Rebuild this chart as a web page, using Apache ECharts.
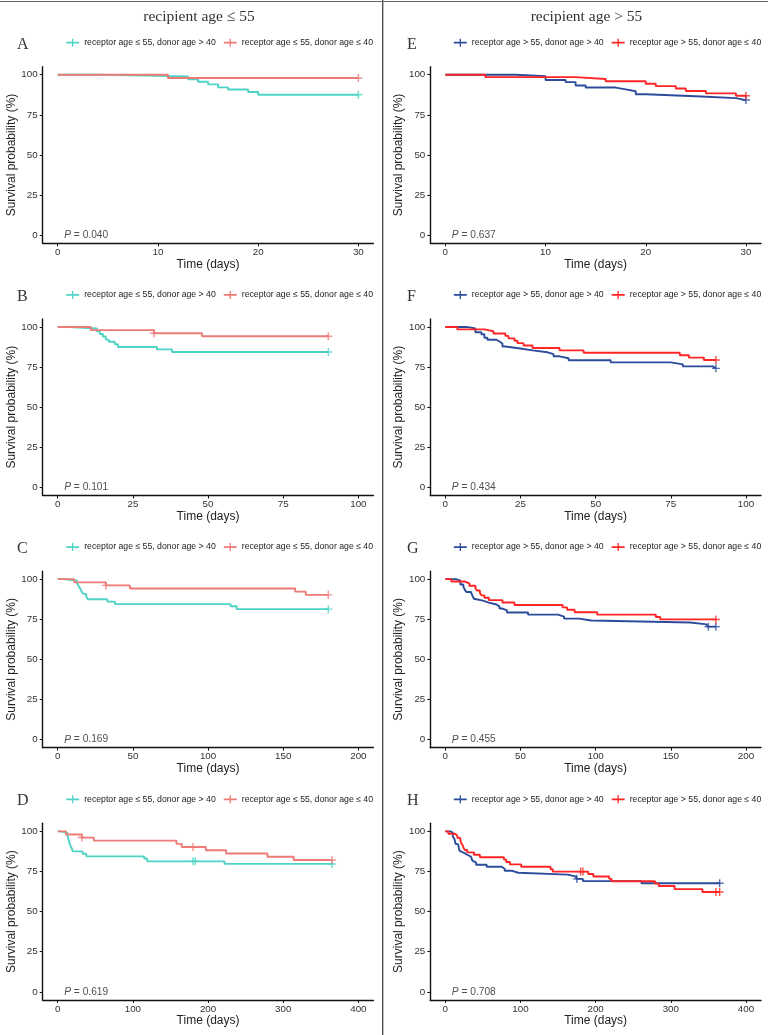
<!DOCTYPE html>
<html><head><meta charset="utf-8">
<script src="https://cdn.jsdelivr.net/npm/echarts@6/dist/echarts.min.js"></script>
<style>html,body{margin:0;padding:0;background:#fff}#c{width:768px;height:1035px}</style>
</head><body><div id="c"></div>
<script>
// ---------- DATA (Kaplan-Meier step points: [day, survival %]) ----------
const leftNames  = ['receptor age \u2264 55, donor age > 40', 'receptor age \u2264 55, donor age \u2264 40'];
const rightNames = ['receptor age > 55, donor age > 40', 'receptor age > 55, donor age \u2264 40'];
const columnTitles = ['recipient age \u2264 55', 'recipient age > 55'];
const panelLetters = ['A','B','C','D','E','F','G','H'];
const pValues = ['0.040','0.101','0.169','0.619','0.637','0.434','0.455','0.708'];
const xLimits = [30, 100, 200, 400];
const xTicks30  = [0, 10, 20, 30];
const xTicks100 = [0, 25, 50, 75, 100];
const xTicks200 = [0, 50, 100, 150, 200];
const xTicks400 = [0, 100, 200, 300, 400];
const yTicks = [0, 25, 50, 75, 100];

// A (30 days, recipient <=55)
const A_gt40 = [[0,100],[4,99],[13,97.2],[14,95.6],[15,94],[16,92.1],[17,90.8],[19,89.2],[20,87.5],[30,87.5]];
const A_le40 = [[0,100],[11,98],[30,98]];
const A_gt40_cens = [[30,87.5]];
const A_le40_cens = [[30,98]];
// B (90 days)
const B_gt40 = [[0,100],[4,99],[13,97.2],[14,95.6],[15,94],[16,92.1],[17,90.8],[19,89.2],[20,87.5],[33,86],[38,84.4],[90,84.4]];
const B_le40 = [[0,100],[11,98],[32,96.1],[48,94.2],[90,94.2]];
const B_gt40_cens = [[90,84.4]];
const B_le40_cens = [[32,96.1],[90,94.2]];
// C (180 days)
const C_gt40 = [[0,100],[4,99],[13,97.2],[14,95.6],[15,94],[16,92.1],[17,90.8],[19,89.2],[20,87.5],[33,86],[38,84.4],[115,83.1],[119,81.3],[180,81.3]];
const C_le40 = [[0,100],[11,98],[32,96.1],[48,94.2],[158,92.2],[165,90.2],[180,90.2]];
const C_gt40_cens = [[180,81.3]];
const C_le40_cens = [[32,96.1],[180,90.2]];
// D (365 days)
const D_gt40 = [[0,100],[4,99],[13,97.2],[14,95.6],[15,94],[16,92.1],[17,90.8],[19,89.2],[20,87.5],[33,86],[38,84.4],[115,83.1],[119,81.3],[222,79.7],[365,79.7]];
const D_le40 = [[0,100],[11,98],[32,96.1],[48,94.2],[158,92.2],[165,90.2],[197,88.2],[224,86.2],[279,84.2],[314,82.1],[365,82.1]];
const D_gt40_cens = [[180,81.3],[183,81.3],[365,79.7]];
const D_le40_cens = [[32,96.1],[180,90.2],[365,82.1]];
// E (30 days, recipient >55)
const E_gt40 = [[0,100],[7,99.1],[10,96.7],[12,95.4],[13,93.3],[14,92],[17,90.9],[18,89.7],[19,87.8],[20,86.6],[25,85.4],[29,84.2],[30,84.2]];
const E_le40 = [[0,100],[4,98.5],[13,97.3],[16,95.9],[20,94.4],[21,92.9],[23,91.4],[24,89.9],[26,88.4],[29,86.9],[30,86.9]];
const E_gt40_cens = [[30,84.2]];
const E_le40_cens = [[30,86.9]];
// F (90 days)
const F_gt40 = [[0,100],[7,99.1],[10,96.7],[12,95.4],[13,93.3],[14,92],[17,90.9],[18,89.7],[19,87.8],[20,86.6],[25,85.4],[29,84.2],[34,83],[36,81.7],[38,80.5],[41,79.2],[55,77.9],[75,76.7],[79,75.4],[89,74.2],[90,74.2]];
const F_le40 = [[0,100],[4,98.5],[13,97.3],[16,95.9],[20,94.4],[21,92.9],[23,91.4],[24,89.9],[26,88.4],[29,86.9],[38,85.4],[46,83.9],[78,82.4],[81,80.9],[86,79.4],[90,79.4]];
const F_gt40_cens = [[90,74.2]];
const F_le40_cens = [[90,79.4]];
// G (180 days)
const G_gt40 = [[0,100],[7,99.1],[10,96.7],[12,95.4],[13,93.3],[14,92],[17,90.9],[18,89.7],[19,87.8],[20,86.6],[25,85.4],[29,84.2],[34,83],[36,81.7],[38,80.5],[41,79.2],[55,77.9],[75,76.7],[79,75.4],[89,74.2],[97,73],[163,71.8],[174,70.4],[180,70.4]];
const G_le40 = [[0,100],[4,98.5],[13,97.3],[16,95.9],[20,94.4],[21,92.9],[23,91.4],[24,89.9],[26,88.4],[29,86.9],[38,85.4],[46,83.9],[78,82.4],[81,80.9],[86,79.4],[101,77.9],[140,76.4],[143,74.9],[180,74.9]];
const G_gt40_cens = [[175,70.4],[180,70.4]];
const G_le40_cens = [[180,74.9]];
// H (365 days)
const H_gt40 = [[0,100],[7,99.1],[10,96.7],[12,95.4],[13,93.3],[14,92],[17,90.9],[18,89.7],[19,87.8],[20,86.6],[25,85.4],[29,84.2],[34,83],[36,81.7],[38,80.5],[41,79.2],[55,77.9],[75,76.7],[79,75.4],[89,74.2],[97,73],[163,71.8],[174,70.4],[183,69],[261,67.7],[365,67.7]];
const H_le40 = [[0,100],[4,98.5],[13,97.3],[16,95.9],[20,94.4],[21,92.9],[23,91.4],[24,89.9],[26,88.4],[29,86.9],[38,85.4],[46,83.9],[78,82.4],[81,80.9],[86,79.4],[101,77.9],[140,76.4],[143,74.9],[190,73.4],[197,71.9],[218,70.4],[221,68.9],[279,67.4],[284,65.9],[305,64],[342,62.2],[365,62.2]];
const H_gt40_cens = [[175,70.4],[365,67.7]];
const H_le40_cens = [[180,74.9],[183,74.9],[360,62.2],[365,62.2]];

// ---------- LAYOUT / STYLE ----------
const SANS = 'Liberation Sans, Arial, sans-serif';
const SERIF = 'Liberation Serif, Times New Roman, serif';
const colLeft = [42.7, 430.3];
const gridW = 330.7;
const rowTop = [66.7, 318.9, 571.1, 823.3];
const gridH = 176.6;
const leftColors = ['#4ED3C6', '#EF7B77'];
const rightColors = ['#2C4C9B', '#FF2525'];
const plusPath = 'path://M4.1,0H5.9V4.1H10V5.9H5.9V10H4.1V5.9H0V4.1H4.1Z';
const legendIcon = 'path://M0,3.15H13V4.85H0ZM5.85,0H7.15V8H5.85Z';

const panels = [
  {col:0,row:0,ticks:xTicks30, s:[A_gt40,A_le40], c:[A_gt40_cens,A_le40_cens]},
  {col:0,row:1,ticks:xTicks100,s:[B_gt40,B_le40], c:[B_gt40_cens,B_le40_cens]},
  {col:0,row:2,ticks:xTicks200,s:[C_gt40,C_le40], c:[C_gt40_cens,C_le40_cens]},
  {col:0,row:3,ticks:xTicks400,s:[D_gt40,D_le40], c:[D_gt40_cens,D_le40_cens]},
  {col:1,row:0,ticks:xTicks30, s:[E_gt40,E_le40], c:[E_gt40_cens,E_le40_cens]},
  {col:1,row:1,ticks:xTicks100,s:[F_gt40,F_le40], c:[F_gt40_cens,F_le40_cens]},
  {col:1,row:2,ticks:xTicks200,s:[G_gt40,G_le40], c:[G_gt40_cens,G_le40_cens]},
  {col:1,row:3,ticks:xTicks400,s:[H_gt40,H_le40], c:[H_gt40_cens,H_le40_cens]}
];

const grid = [], xAxis = [], yAxis = [], series = [], legend = [], graphic = [];

panels.forEach((p, i) => {
  const names = p.col === 0 ? leftNames : rightNames;
  const colors = p.col === 0 ? leftColors : rightColors;
  const xl = xLimits[p.row];
  grid.push({left: colLeft[p.col], top: rowTop[p.row], width: gridW, height: gridH});
  xAxis.push({
    type:'value', gridIndex:i, min:-0.05*xl, max:1.05*xl,
    splitLine:{show:false},
    axisLine:{show:true, onZero:false, lineStyle:{color:'#111', width:1.4}},
    axisTick:{show:true, length:3, customValues:p.ticks, lineStyle:{color:'#111', width:1}},
    axisLabel:{customValues:p.ticks, margin:4, fontSize:9.8, color:'#333', fontFamily:SANS},
    name:'Time (days)', nameLocation:'middle', nameGap:15,
    nameTextStyle:{fontSize:12, color:'#222', fontFamily:SANS}
  });
  yAxis.push({
    type:'value', gridIndex:i, min:-5, max:105,
    splitLine:{show:false},
    axisLine:{show:true, onZero:false, lineStyle:{color:'#111', width:1.4}},
    axisTick:{show:true, length:3, customValues:yTicks, lineStyle:{color:'#111', width:1}},
    axisLabel:{customValues:yTicks, margin:5, fontSize:9.8, color:'#333', fontFamily:SANS},
    name:'Survival probability (%)', nameLocation:'middle', nameGap:22.5,
    nameTextStyle:{fontSize:12, color:'#222', fontFamily:SANS}
  });
  for (let k = 0; k < 2; k++) {
    series.push({
      type:'line', name:names[k], xAxisIndex:i, yAxisIndex:i, data:p.s[k], step:'end',
      showSymbol:false, symbol:'none', color:colors[k],
      lineStyle:{color:colors[k], width:1.9}, animation:false, silent:true
    });
  }
  for (let k = 0; k < 2; k++) {
    series.push({
      type:'scatter', name:names[k], xAxisIndex:i, yAxisIndex:i, data:p.c[k],
      symbol:plusPath, symbolSize:8, itemStyle:{color:colors[k]}, animation:false, silent:true, z:3
    });
  }
  series.push({
    type:'scatter', name:'p-value', xAxisIndex:i, yAxisIndex:i, data:[[0,0]], symbolSize:1,
    itemStyle:{color:'rgba(0,0,0,0)'}, silent:true, animation:false, z:5,
    label:{show:true, position:'right', distance:6, formatter:'{i|P} = ' + pValues[i],
      fontSize:10.2, color:'#222', fontFamily:SANS,
      rich:{i:{fontStyle:'italic', fontSize:10.2, color:'#222', fontFamily:SANS}}}
  });
  legend.push({
    data:names, left: colLeft[p.col] + 23.5, top: rowTop[p.row] - 28.5, padding:0,
    icon: legendIcon, itemWidth:13, itemHeight:8, itemGap:8,
    textStyle:{fontSize:8.7, color:'#222', fontFamily:SANS}, selectedMode:false
  });
  graphic.push({type:'text', x: p.col === 0 ? 17 : 407, y: rowTop[p.row] - 22.2,
    style:{text: panelLetters[i], font:'16px ' + SERIF, fill:'#333', textAlign:'left', textVerticalAlign:'middle'}});
});

graphic.push({type:'text', x:199, y:16.5, style:{text:columnTitles[0], font:'15.5px ' + SERIF, fill:'#333', textAlign:'center', textVerticalAlign:'middle'}});
graphic.push({type:'text', x:586.5, y:16.5, style:{text:columnTitles[1], font:'15.5px ' + SERIF, fill:'#333', textAlign:'center', textVerticalAlign:'middle'}});
graphic.push({type:'line', shape:{x1:382.7, y1:0, x2:382.7, y2:1035}, style:{stroke:'#444', lineWidth:1.3}});
graphic.push({type:'line', shape:{x1:0, y1:1.5, x2:768, y2:1.5}, style:{stroke:'#666', lineWidth:1.2}});

const chart = echarts.init(document.getElementById('c'), null, {renderer:'canvas'});
chart.setOption({animation:false, backgroundColor:'#fff', grid, xAxis, yAxis, series, legend, graphic});
</script></body></html>
